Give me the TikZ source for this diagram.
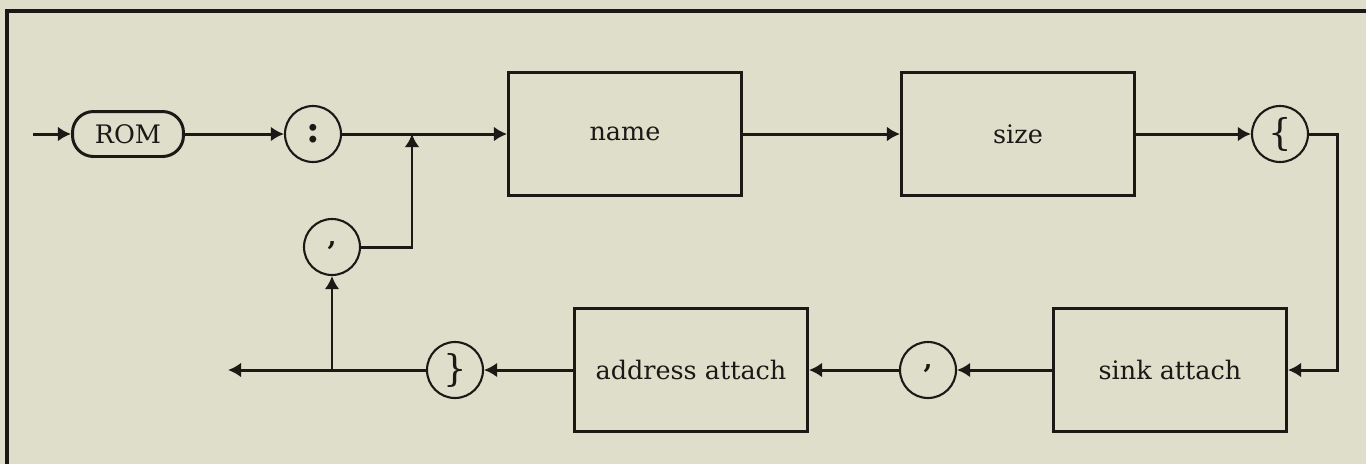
\documentclass[tikz,border=0pt]{standalone}
\usepackage{fontspec}
\setmainfont{DejaVu Serif}
\usepackage{xcolor}
\usetikzlibrary{arrows.meta}
\definecolor{paper}{HTML}{DEDECB}
\definecolor{ink}{HTML}{1C1816}

\begin{document}
\begin{tikzpicture}[x=0.02cm, y=-0.02cm, line width=1.7pt, draw=ink,
      every node/.style={font=\fontsize{14.5}{17}\selectfont, text=ink},
      kw/.style={draw, rounded corners=0.42cm, minimum width=2.22cm,
                 minimum height=0.9cm, inner sep=0pt},
      tok/.style={draw, circle, line width=1.2pt, minimum size=1.12cm, inner sep=0pt},
      big/.style={font=\fontsize{21}{24}\selectfont},
      rule/.style={draw, minimum width=4.66cm, minimum height=2.46cm, inner sep=0pt},
      arr/.style={-{Latex[length=7.5pt, width=8.5pt]}}]
    \fill[paper] (0,0) rectangle (1366,464);
    \useasboundingbox (0,0) rectangle (1366,464);
    \draw[line width=2pt] (7,464) -- (7,11) -- (1366,11);
    % top row
    \coordinate (start) at (33,134);
    \node[kw]   (rom)    at (128,134)  {ROM};
    \node[tok, big] (colon) at (313,134) {\textbf{:}};
    \node[rule] (name)   at (625,134)  {name};
    \node[rule] (size)   at (1018,134) {size};
    \node[tok, big] (lbr) at (1280,134) {\{};
    \coordinate (jtop)   at (412,134);
    \coordinate (rc)     at (1337,134);
    % bottom row
    \node[rule] (sink)   at (1170,370) {sink attach};
    \node[tok]  (comb)   at (928,370)  {\raisebox{0.5ex}{\textbf{,}}};
    \node[rule] (addr)   at (691,370)  {address attach};
    \node[tok, big] (rbr) at (455,370) {\}};
    \node[tok]  (coma)   at (332,247)  {\raisebox{0.5ex}{\textbf{,}}};
    \coordinate (jbot)   at (332,370);
    \coordinate (fin)    at (228,370);
    \foreach \x/\y in {start/rom, rom/colon, colon/name, name/size, size/lbr,
                       sink/comb, comb/addr, addr/rbr, rbr/fin, jbot/coma}
      \draw[arr] (\x) -- (\y);
    \draw[arr] (lbr) -- (rc) |- (sink);
    \draw[arr] (coma) -| (jtop);
\end{tikzpicture}
\end{document}
